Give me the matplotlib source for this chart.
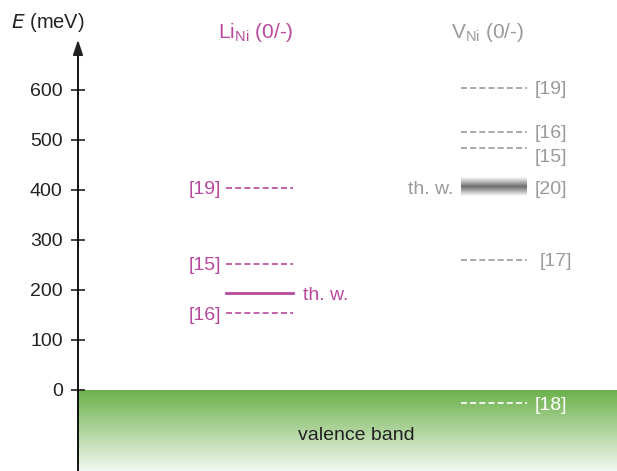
import numpy as np
import matplotlib.pyplot as plt
from matplotlib.colors import LinearSegmentedColormap

# energy levels in meV
li_refs = ["[19]", "[15]", "[16]"]
li_levels = [404, 252, 154]
li_thw = 194

v_refs = ["[19]", "[16]", "[15]", "[17]", "[18]"]
v_levels = [604, 516, 484, 260, -26]
v_thw = 406
v_thw_width = 38

yticks = [0, 100, 200, 300, 400, 500, 600]

magenta = "#b8499c"
gray = "#9a9a9a"

plt.rcParams['font.family'] = ['Liberation Sans', 'DejaVu Sans']
fs = 14
dy = -4  # labels sit slightly below their level

fig = plt.figure(figsize=(6.17, 4.71), dpi=100)
ax = fig.add_axes([0, 0, 1, 1])
ax.set_xlim(0, 617)
ax.set_ylim(-162, 780)

x_axis = 78
li_x = (226, 293)
v_x = (461, 527)
dash = (3.6, 1.9)

# valence band gradient
green = LinearSegmentedColormap.from_list("vb", ["#f2f8ef", "#6cb14c"])
grad = np.linspace(0, 1, 256).reshape(-1, 1)
ax.imshow(grad, cmap=green, aspect="auto", origin="lower",
          extent=[x_axis, 617, -162, 0], zorder=0)
ax.text(356, -92, "valence band", ha="center", va="center",
        fontsize=fs, color="#222222")

# axis
for s in ["top", "right", "bottom"]:
    ax.spines[s].set_visible(False)
ax.spines["left"].set_position(("data", x_axis))
ax.spines["left"].set_linewidth(1.3)
ax.spines["left"].set_bounds(-162, 690)
ax.set_yticks(yticks)
ax.set_xticks([])
ax.tick_params(axis="y", direction="inout", length=10, width=1.2,
               labelsize=fs, pad=6, colors="#222222")
ax.annotate("", xy=(x_axis, 706), xytext=(x_axis, 660),
            arrowprops=dict(arrowstyle="-|>,head_width=0.3,head_length=0.9",
                            color="#222222", lw=1.3))
ax.text(11, 736, "$\\it{E}$ (meV)", ha="left", va="center", fontsize=14.5,
        color="#222222")

# Li_Ni column
ax.text(256, 716, "Li$_{\\mathregular{Ni}}$ (0/-)", ha="center", va="center",
        fontsize=15, color=magenta)
for ref, e in zip(li_refs, li_levels):
    ax.plot(li_x, [e, e], color=magenta, lw=1.2, dashes=dash)
    ax.text(li_x[0] - 5, e + dy, ref, ha="right", va="center", fontsize=fs,
            color=magenta)
ax.plot(li_x, [li_thw, li_thw], color=magenta, lw=2)
ax.text(li_x[1] + 10, li_thw + dy, "th. w.", ha="left", va="center",
        fontsize=fs, color=magenta)

# V_Ni column
ax.text(488, 716, "V$_{\\mathregular{Ni}}$ (0/-)", ha="center", va="center",
        fontsize=15, color=gray)
for ref, e in zip(v_refs, v_levels):
    c = "white" if e < 0 else gray
    ax.plot(v_x, [e, e], color=c, lw=1.2, dashes=dash)
    off = 13 if ref == "[17]" else 8
    ax.text(v_x[1] + off, e + dy - (16 if ref == "[15]" else 0), ref,
            ha="left", va="center", fontsize=fs, color=c)

band = LinearSegmentedColormap.from_list("thw", ["#ffffff", "#6e6e6e", "#ffffff"])
ax.imshow(grad, cmap=band, aspect="auto", origin="lower",
          extent=[v_x[0], v_x[1], v_thw - v_thw_width / 2, v_thw + v_thw_width / 2],
          zorder=1)
ax.text(v_x[0] - 8, v_thw + dy, "th. w.", ha="right", va="center",
        fontsize=fs, color=gray)
ax.text(v_x[1] + 8, v_thw + dy, "[20]", ha="left", va="center",
        fontsize=fs, color=gray)

fig.savefig("out.png", dpi=100)
